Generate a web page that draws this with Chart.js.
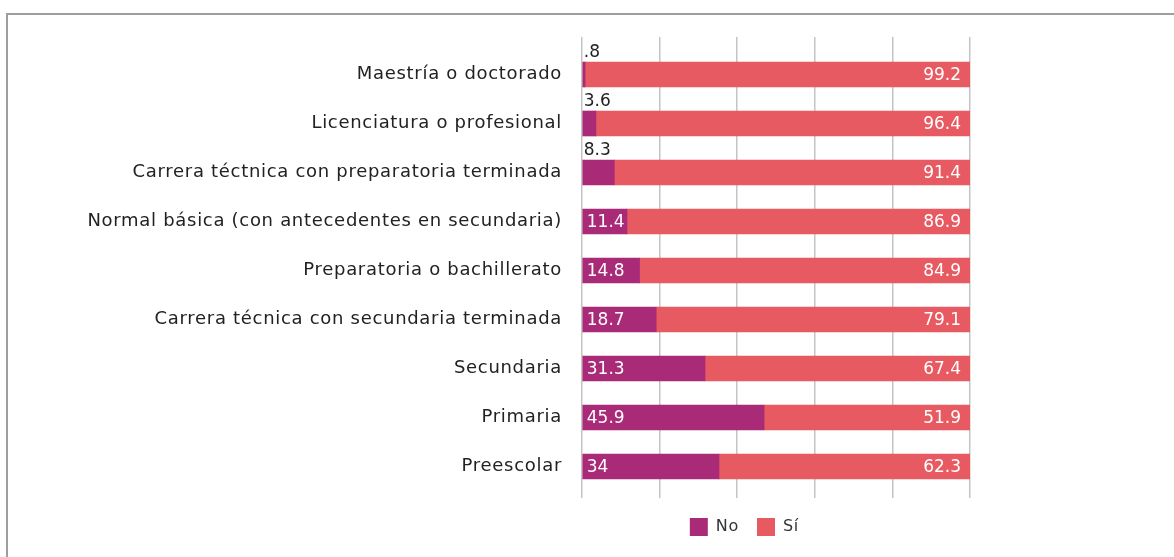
<!DOCTYPE html>
<html lang="es">
<head>
<meta charset="utf-8">
<script src="https://cdn.jsdelivr.net/npm/chart.js@4.4.1/dist/chart.umd.min.js"></script>
<style>
  html, body { margin: 0; padding: 0; background: #fff; overflow: hidden; }
  #frame { position: absolute; left: 6px; top: 13px; width: 1400px; height: 800px;
           border-left: 2px solid #9e9e9e; border-top: 2px solid #9e9e9e; }
  #wrap { position: absolute; left: 0; top: 0; width: 1174px; height: 557px; }
</style>
</head>
<body>
<div id="frame"></div>
<div id="wrap"><canvas id="chart"></canvas></div>
<script>
// Data
const categories = [
    'Maestría o doctorado',
    'Licenciatura o profesional',
    'Carrera téctnica con preparatoria terminada',
    'Normal básica (con antecedentes en secundaria)',
    'Preparatoria o bachillerato',
    'Carrera técnica con secundaria terminada',
    'Secundaria',
    'Primaria',
    'Preescolar'
];
const noValues = [0.8, 3.6, 8.3, 11.4, 14.8, 18.7, 31.3, 45.9, 34];
const siValues = [99.2, 96.4, 91.4, 86.9, 84.9, 79.1, 67.4, 51.9, 62.3];
const seriesNames = ['No', 'Sí'];
const xTicks = [0, 20, 40, 60, 80, 100];

const FONT = '"DejaVu Sans", sans-serif';

// bars are shown as share of each row (100% stacked)
function share(values, i) {
    return values[i] / (noValues[i] + siValues[i]) * 100;
}
const noShare = noValues.map((v, i) => share(noValues, i));
const siShare = siValues.map((v, i) => share(siValues, i));

function fmt(v) {
    return String(v).replace(/^0\./, '.');
}

// slightly wider lettering for axis + legend text (original font is wide)
const wideText = {
    id: 'wideText',
    beforeDraw(chart) {
        chart.ctx.letterSpacing = '0.7px';
    },
    beforeDatasetsDraw(chart) {
        chart.ctx.letterSpacing = '0px';
    }
};

// draw the numbers on the bars
const valueLabels = {
    id: 'valueLabels',
    afterDatasetsDraw(chart) {
        const ctx = chart.ctx;
        const raws = [noValues, siValues];
        ctx.save();
        ctx.font = '17px ' + FONT;
        chart.data.datasets.forEach((ds, di) => {
            const meta = chart.getDatasetMeta(di);
            meta.data.forEach((bar, i) => {
                const raw = raws[di][i];
                const p = bar.getProps(['x', 'y', 'base', 'height'], true);
                const text = fmt(raw);
                if (di === 0) {
                    ctx.textAlign = 'left';
                    if (raw < 10) {
                        ctx.fillStyle = '#222';
                        ctx.textBaseline = 'bottom';
                        ctx.fillText(text, p.base + 1, p.y - p.height / 2 - 1);
                    } else {
                        ctx.fillStyle = '#fff';
                        ctx.textBaseline = 'middle';
                        ctx.fillText(text, p.base + 4, p.y + 1);
                    }
                } else {
                    ctx.fillStyle = '#fff';
                    ctx.textAlign = 'right';
                    ctx.textBaseline = 'middle';
                    ctx.fillText(text, p.x - 9, p.y + 1);
                }
            });
        });
        ctx.restore();
    }
};

// move the legend so it sits under the bars like in the original
const legendShift = {
    id: 'legendShift',
    afterLayout(chart) {
        const lg = chart.legend;
        const area = chart.chartArea;
        lg.left = area.left - 62;
        lg.right = area.right - 4;
        lg.top += 2;
        lg.bottom += 2;
    }
};

const tickBuilder = scale => { scale.ticks = xTicks.map(v => ({ value: v })); };

new Chart(document.getElementById('chart'), {
    type: 'bar',
    data: {
        labels: categories,
        datasets: [
            { label: seriesNames[0], data: noShare, backgroundColor: '#a92b78', borderWidth: 0 },
            { label: seriesNames[1], data: siShare, backgroundColor: '#e85a62', borderWidth: 0 }
        ]
    },
    options: {
        indexAxis: 'y',
        responsive: true,
        maintainAspectRatio: false,
        animation: false,
        layout: { padding: { left: 0, right: 204, top: 37, bottom: 13 } },
        datasets: { bar: { barThickness: 25 } },
        scales: {
            x: {
                stacked: true,
                min: 0,
                max: 100,
                afterBuildTicks: tickBuilder,
                border: { display: false },
                grid: { color: '#c4c4c4', lineWidth: 1.5, drawTicks: true, tickLength: 7 },
                ticks: { display: false }
            },
            x2: {
                type: 'linear',
                position: 'top',
                min: 0,
                max: 100,
                afterBuildTicks: tickBuilder,
                border: { display: false },
                grid: { color: '#c4c4c4', lineWidth: 1.5, drawOnChartArea: false, drawTicks: true, tickLength: 13 },
                ticks: { display: false }
            },
            y: {
                stacked: true,
                afterFit: scale => { scale.width = 582; },
                border: { display: false },
                grid: { display: false },
                ticks: { color: '#222', padding: 12, font: { family: FONT, size: 18 } }
            }
        },
        plugins: {
            legend: {
                position: 'bottom',
                labels: {
                    boxWidth: 18,
                    boxHeight: 18,
                    padding: 18,
                    color: '#333',
                    font: { family: FONT, size: 16 }
                }
            },
            tooltip: { enabled: false }
        }
    },
    plugins: [wideText, valueLabels, legendShift]
});
</script>
</body>
</html>
